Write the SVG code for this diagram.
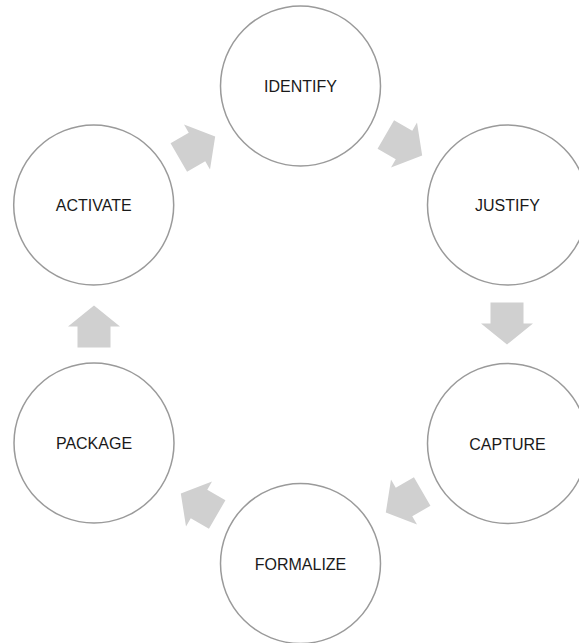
<svg xmlns="http://www.w3.org/2000/svg" width="579" height="643" viewBox="0 0 579 643">
<defs>
<style>
.node circle{fill:#fff;stroke:#9a9a9a;stroke-width:1.5}
.node text{font-family:"Liberation Sans",Arial,sans-serif;font-size:16px;fill:#1a1a1a;text-anchor:middle}
.arr{fill:#d0d0d0}
</style>
<path id="arrow" d="M-21,-16.5 L0,-16.5 L0,-26 L21,0 L0,26 L0,16.5 L-21,16.5 Z"/>
</defs>
<rect width="579" height="643" fill="#fff"/>
<g id="connectors" class="arr">
<use href="#arrow" transform="translate(197,147) rotate(-30)"/>
<use href="#arrow" transform="translate(404,145) rotate(30)"/>
<use href="#arrow" transform="translate(507,323.5) rotate(90)"/>
<use href="#arrow" transform="translate(404,502) rotate(150)"/>
<use href="#arrow" transform="translate(199,504) rotate(210)"/>
<use href="#arrow" transform="translate(94,326.5) rotate(-90)"/>
</g>
<g id="identify" class="node"><circle cx="300.5" cy="86" r="80"/><text x="300.5" y="92">IDENTIFY</text></g>
<g id="justify" class="node"><circle cx="507.5" cy="205" r="80"/><text x="507.5" y="211">JUSTIFY</text></g>
<g id="capture" class="node"><circle cx="507.5" cy="443.5" r="80"/><text x="507.5" y="449.5">CAPTURE</text></g>
<g id="formalize" class="node"><circle cx="300.5" cy="563.5" r="80"/><text x="300.5" y="569.5">FORMALIZE</text></g>
<g id="package" class="node"><circle cx="94" cy="443" r="80"/><text x="94" y="449">PACKAGE</text></g>
<g id="activate" class="node"><circle cx="93.7" cy="205" r="80"/><text x="93.7" y="211">ACTIVATE</text></g>
</svg>
